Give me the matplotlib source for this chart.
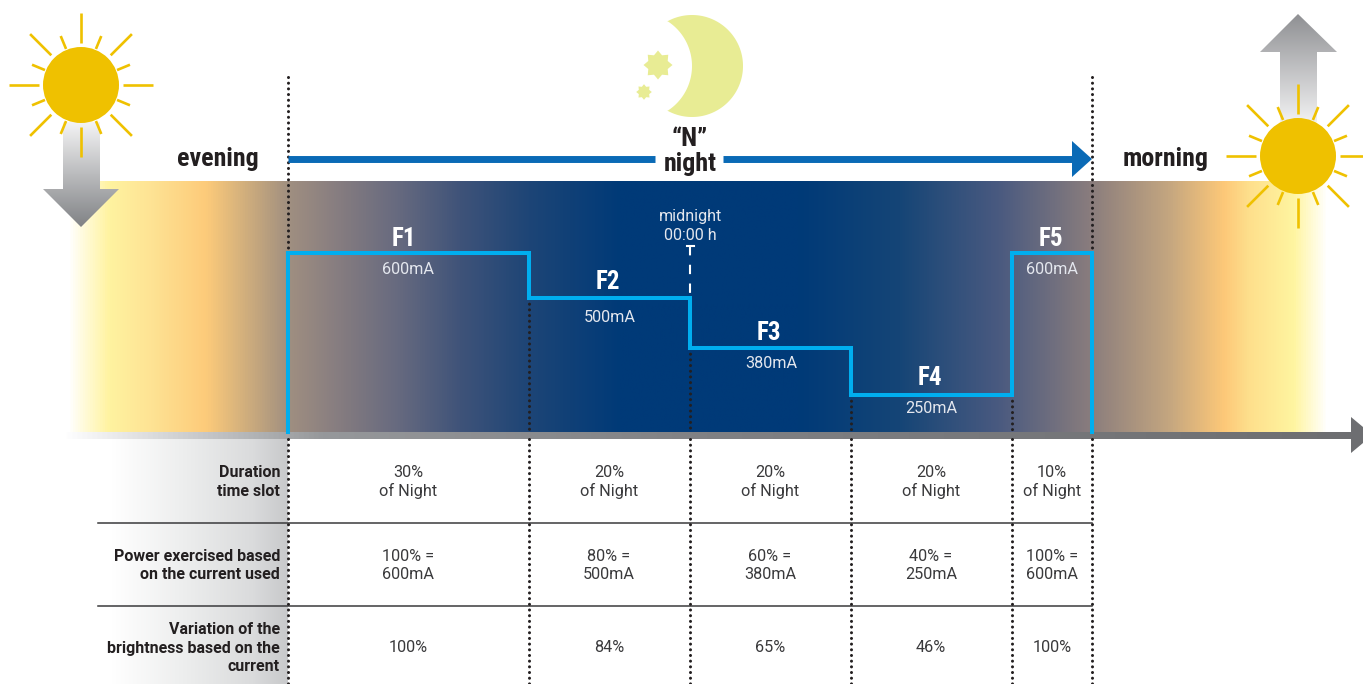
import numpy as np
import matplotlib
matplotlib.use("Agg")
import matplotlib.pyplot as plt
from matplotlib.colors import LinearSegmentedColormap
from matplotlib.patches import Polygon, Circle

#Chart data
slot_names = ["F1", "F2", "F3", "F4", "F5"]
slot_currents = ["600mA", "500mA", "380mA", "250mA", "600mA"]
duration_pct = [30, 20, 20, 20, 10]
step_level = [100, 81, 60, 40, 100]
duration_cells = ["30%\nof Night", "20%\nof Night", "20%\nof Night", "20%\nof Night", "10%\nof Night"]
power_cells = ["100% =\n600mA", "80% =\n500mA", "60% =\n380mA", "40% =\n250mA", "100% =\n600mA"]
brightness_cells = ["100%", "84%", "65%", "46%", "100%"]
row_labels = ["Duration\ntime slot", "Power exercised based\non the current used", "Variation of the\nbrightness based on the\ncurrent"]

#Colours
SUN = "#efc100"
MOON = "#e8ec94"
CYAN = "#00aeef"
BLUE = "#0a6ab6"
DARK = "#231f20"
CELL = "#3a3a3c"
BAND_TEXT = "#e4e7ee"
COND = ["Roboto Condensed", "Roboto", "DejaVu Sans"]
ROB = ["Roboto", "DejaVu Sans"]

#x scale of the slots: percent of the night to pixels
def xpos(p):
    return 288 + p * 8.04

#y scale of the step line
def ypos(level):
    return 253 + (100 - level) * 2.37

edges = xpos(np.concatenate([[0], np.cumsum(duration_pct)]))
x_left = edges[0]
x_right = edges[-1]

fig = plt.figure(figsize=(13.63, 6.84), dpi=100)
ax = fig.add_axes([0, 0, 1, 1])
ax.axis("off")

#Sky band
band_x = [68, 82, 108, 150, 205, 288, 340, 400, 460, 529, 620, 800, 900, 1000, 1092, 1170, 1225, 1250, 1295, 1328]
band_c = ["#ffffff", "#fffbdc", "#fff3a0", "#fee394", "#fdcb7a", "#a08f80", "#857c80", "#65697f", "#3f5379", "#1d4576",
          "#003a78", "#003a78", "#154576", "#4a5a80", "#8a7d7d", "#c4a680", "#fdc878", "#fedf8c", "#fff5a0", "#ffffff"]
stops = [(v - band_x[0]) / (band_x[-1] - band_x[0]) for v in band_x]
band_cmap = LinearSegmentedColormap.from_list("band", list(zip(stops, band_c)), N=512)
grad = np.linspace(0, 1, 1024).reshape(1, -1)
ax.imshow(grad, cmap=band_cmap, extent=(68, 1328, 432, 181), aspect="auto", zorder=1)

#Grey panel behind the row labels
panel_cmap = LinearSegmentedColormap.from_list("panel", [(0, "#ffffff"), (0.45, "#ebecec"), (0.8, "#dadbdc"), (1, "#c8c9cb")])
ax.imshow(grad, cmap=panel_cmap, extent=(112, 288, 684, 438), aspect="auto", zorder=1)

#Time axis
axis_cmap = LinearSegmentedColormap.from_list("axis", [(0, "#ffffff"), (0.2, "#96989b"), (0.5, "#808184"), (1, "#6d6e71")])
ax.imshow(grad, cmap=axis_cmap, extent=(62, 1352, 439, 432), aspect="auto", zorder=3)
ax.add_patch(Polygon([(1351, 417), (1363, 427), (1363, 443), (1351, 453)], fc="#6d6e71", ec="none", zorder=3))

#Dotted separators
dot = dict(color="#231f20", lw=2.2, linestyle=(0, (0.01, 1.85)), dash_capstyle="round", zorder=4)
ax.plot([x_left, x_left], [77, 253], **dot)
ax.plot([x_right, x_right], [77, 253], **dot)
for i, ex in enumerate(edges):
    if 0 < i < len(edges) - 1:
        ax.plot([ex, ex], [ypos(min(step_level[i - 1], step_level[i])), 432], **dot)
    ax.plot([ex, ex], [439, 684], **dot)

#Row rules
for y in [522.5, 606]:
    ax.plot([98, x_right], [y, y], color="#3a3a3c", lw=1.1, zorder=3)

#Step line
line_x = [x_left]
line_y = [432]
for i, lev in enumerate(step_level):
    line_x += [edges[i], edges[i + 1]]
    line_y += [ypos(lev), ypos(lev)]
line_x.append(x_right)
line_y.append(432)
ax.plot(line_x, line_y, color=CYAN, lw=2.9, solid_joinstyle="miter", zorder=5)

#Midnight marker
ax.plot([edges[2], edges[2]], [246, ypos(step_level[1])], color="white", lw=1.5, linestyle=(0, (4.5, 4.5)), zorder=5)
ax.plot([edges[2] - 3.5, edges[2] + 3.5], [246, 246], color="white", lw=1.5, zorder=5)
ax.text(edges[2], 216, "midnight", color=BAND_TEXT, fontsize=11.6, family=ROB, ha="center", va="center", zorder=6)
ax.text(edges[2], 235, "00:00 h", color=BAND_TEXT, fontsize=11.6, family=ROB, ha="center", va="center", zorder=6)

#Slot labels
name_x = [404, 608, 769, 930, 1051]
name_dy = [-14, -16, -15, -17, -14]
cur_x = [408, 610, 771, 931, 1052]
cur_dy = [17, 19, 16, 13, 17]
for i in range(len(slot_names)):
    yy = ypos(step_level[i])
    ax.text(name_x[i], yy + name_dy[i], slot_names[i], color="white", fontsize=18, fontweight="bold",
            family=COND, ha="center", va="center", zorder=6)
    ax.text(cur_x[i], yy + cur_dy[i], slot_currents[i], color=BAND_TEXT, fontsize=11.7, family=ROB,
            ha="center", va="center", zorder=6)

#Table
cell_x = [408, 609, 770, 931, 1052]
for row, (cells, yc) in enumerate(zip([duration_cells, power_cells, brightness_cells], [482, 565.5, 648])):
    for cx, txt in zip(cell_x, cells):
        ax.text(cx, yc, txt, color=CELL, fontsize=11.7, family=ROB, ha="center", va="center", linespacing=1.3, zorder=6)
    ax.text(280, yc, row_labels[row], color=DARK, fontsize=11.5, fontweight="bold", family=ROB, ha="right", va="center",
            linespacing=1.3, zorder=6)

#Night arrow
ax.plot([288, 655], [159, 159], color=BLUE, lw=5, solid_capstyle="butt", zorder=4)
ax.plot([723, 1073], [159, 159], color=BLUE, lw=5, solid_capstyle="butt", zorder=4)
ax.add_patch(Polygon([(1072, 141), (1092, 159), (1072, 177)], fc=BLUE, ec="none", zorder=4))

#Headings
head = dict(color=DARK, fontsize=18.7, fontweight="bold", family=COND, ha="center", va="center", zorder=6)
ax.text(217.5, 159, "evening", **head)
ax.text(1165.5, 159, "morning", **head)
ax.text(690, 139, "\u201cN\u201d", **head)
ax.text(690, 164, "night", **head)

#Gradient arrows
def grad_arrow(pts, y0, y1, c_top, c_bot):
    cm = LinearSegmentedColormap.from_list("arr", [c_top, c_bot])
    im = ax.imshow(np.linspace(0, 1, 256).reshape(-1, 1), cmap=cm, aspect="auto",
                   extent=(min(p[0] for p in pts), max(p[0] for p in pts), y1, y0), zorder=7)
    patch = Polygon(pts, fc="none", ec="none", transform=ax.transData)
    ax.add_patch(patch)
    im.set_clip_path(patch)

grad_arrow([(63, 122), (100, 122), (100, 189), (119, 189), (81, 227), (43, 189), (63, 189)], 122, 227, "#f4f4f5", "#808285")
grad_arrow([(1298, 14), (1337, 52), (1317, 52), (1317, 122), (1280, 122), (1280, 52), (1260, 52)], 14, 122, "#8f9093", "#f1f1f2")

#Suns
def sun(cx, cy):
    ax.add_patch(Circle((cx, cy), 38, fc=SUN, ec="none", zorder=8))
    for k in range(16):
        a = np.deg2rad(k * 22.5)
        if k % 2 == 0:
            r0, r1 = 42, 72
        else:
            r0, r1 = 39, 53
        ax.plot([cx + r0 * np.cos(a), cx + r1 * np.cos(a)], [cy + r0 * np.sin(a), cy + r1 * np.sin(a)],
                color=SUN, lw=1.9, solid_capstyle="butt", zorder=8)

sun(81, 85)
sun(1298, 156)

#Moon and stars
lim1 = np.pi - np.arcsin(44.5 / 51)
lim2 = np.arcsin(44.5 / 53.3)
t1 = np.linspace(-lim1, lim1, 200)
t2 = np.linspace(lim2, -lim2, 200)
moon = np.vstack([np.column_stack([692 + 51 * np.cos(t1), 66 + 51 * np.sin(t1)]),
                  np.column_stack([638.7 + 53.3 * np.cos(t2), 66 + 53.3 * np.sin(t2)])])
ax.add_patch(Polygon(moon, fc=MOON, ec="none", zorder=4))

def star(cx, cy, r_out, r_in):
    a = np.deg2rad(np.arange(16) * 22.5)
    r = np.where(np.arange(16) % 2 == 0, r_out, r_in)
    ax.add_patch(Polygon(np.column_stack([cx + r * np.cos(a), cy + r * np.sin(a)]), fc=MOON, ec="none", zorder=4))

star(658, 65, 14.5, 10.5)
star(644, 92, 7.8, 5.6)

ax.set_xlim(0, 1363)
ax.set_ylim(684, 0)
fig.savefig("out.png", dpi=100)
